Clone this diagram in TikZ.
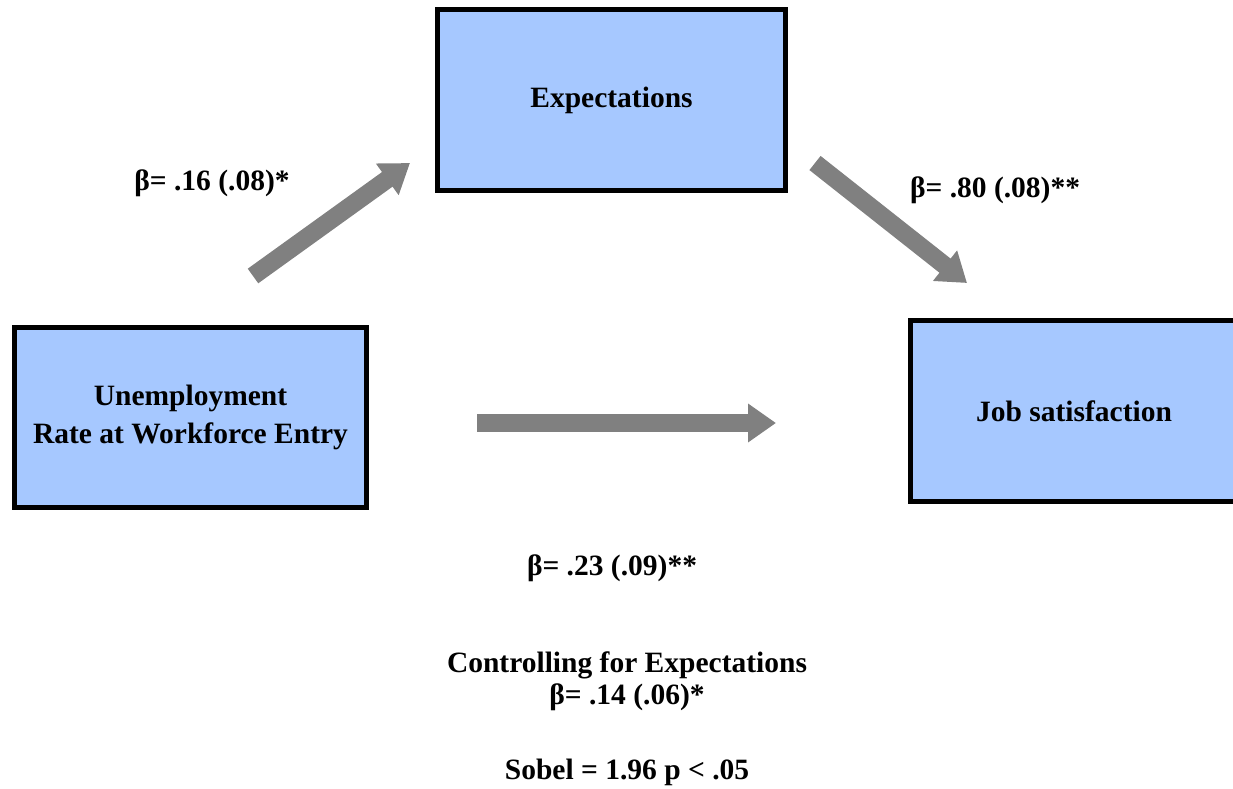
\documentclass[tikz,border=0pt]{standalone}
\usepackage{fontspec}
\setmainfont{Liberation Serif}
\usepackage{tikz}
\usepackage{xcolor}
\usetikzlibrary{arrows.meta}

\definecolor{boxblue}{RGB}{166,200,255}
\definecolor{arrowgrey}{RGB}{128,128,128}

\tikzset{
  varbox/.style={draw=black, line width=5pt, fill=boxblue, align=center, inner sep=0pt,
    font=\bfseries\fontsize{29.5}{38}\selectfont},
  coef/.style={align=center, inner sep=0pt, font=\bfseries\fontsize{29.5}{32}\selectfont},
  patharrow/.style={draw=arrowgrey, line width=18pt, -{Triangle[width=37pt,length=28pt]}}
}

\begin{document}
\begin{tikzpicture}[x=1pt,y=-1pt]
        \clip (0,0) rectangle (1233,789);

        % variables
        \node[varbox, minimum width=348, minimum height=181] (expect) at (611.5,100) {Expectations};
        \node[varbox, minimum width=352, minimum height=180] (unemp) at (190.5,417.5) {Unemployment\\Rate at Workforce Entry};
        \node[varbox, minimum width=328, minimum height=181] (jobsat) at (1074,411) {Job satisfaction};

        % paths
        \coordinate (ue-tail) at (253,276);
        \coordinate (ue-tip) at (410,163);
        \coordinate (ej-tail) at (815,163);
        \coordinate (ej-tip) at (967,283);
        \coordinate (uj-tail) at (477,423);
        \coordinate (uj-tip) at (776,423);
        \draw[patharrow] (ue-tail) -- (ue-tip);
        \draw[patharrow] (ej-tail) -- (ej-tip);
        \draw[patharrow] (uj-tail) -- (uj-tip);

        % coefficients
        \node[coef] (b-ue) at (212,183) {β= .16 (.08)*};
        \node[coef] (b-ej) at (995,190) {β= .80 (.08)**};
        \node[coef] (b-uj) at (612,568) {β= .23 (.09)**};
        \node[coef] (ctrl) at (627,681) {Controlling for Expectations\\β= .14 (.06)*};
        \node[coef] (sobel) at (627,772) {Sobel = 1.96 p < .05};
    \end{tikzpicture}
\end{document}
